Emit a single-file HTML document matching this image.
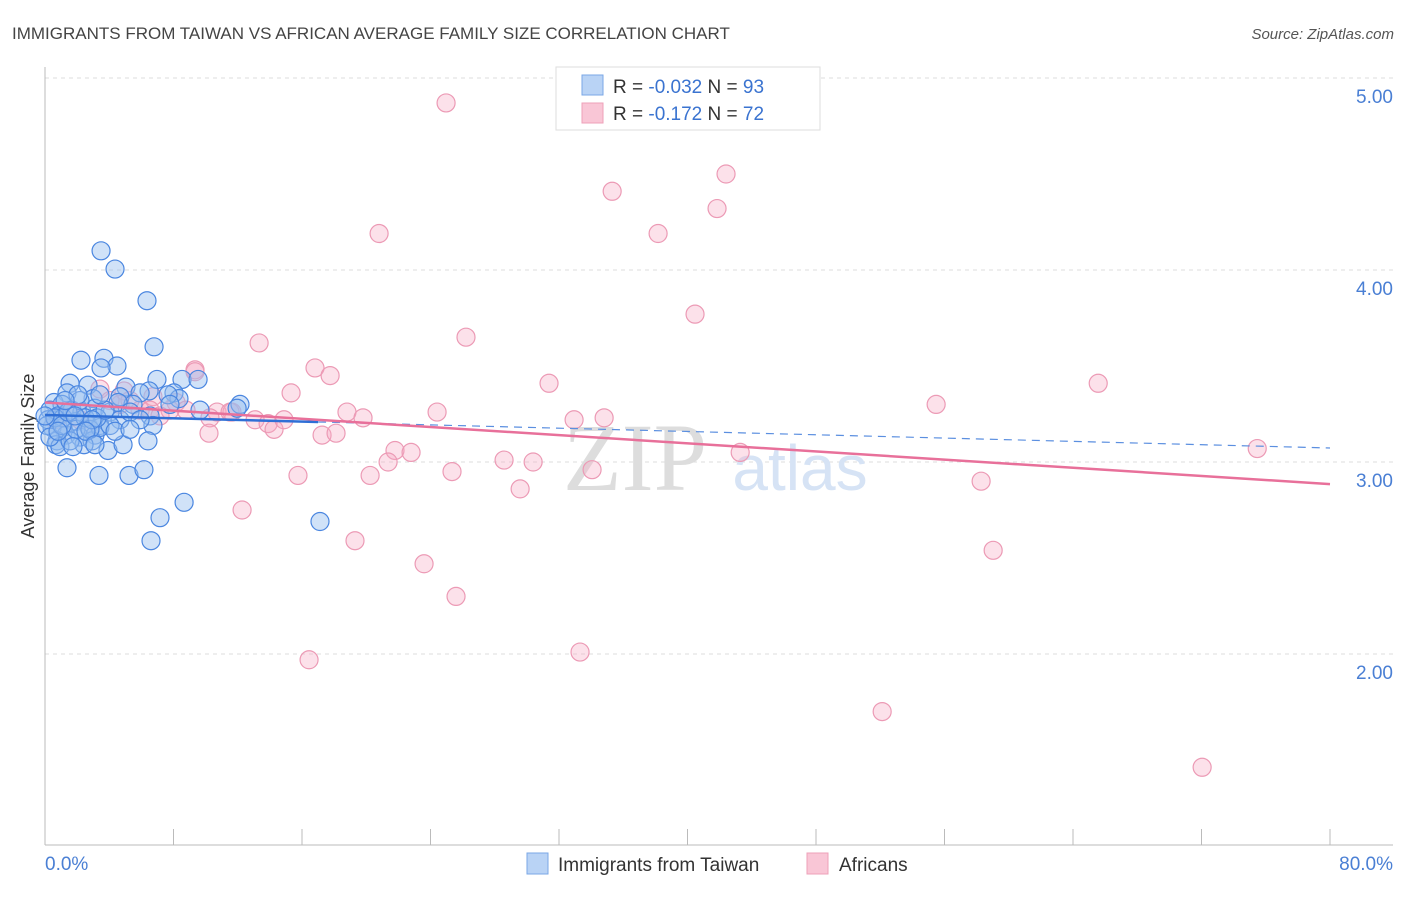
<!DOCTYPE html>
<html><head><meta charset="utf-8"><style>
body{margin:0;background:#fff;font-family:"Liberation Sans",sans-serif;}
</style></head><body>
<svg width="1406" height="892" viewBox="0 0 1406 892" xmlns="http://www.w3.org/2000/svg">
<text x="12" y="39" font-size="17" fill="#444">IMMIGRANTS FROM TAIWAN VS AFRICAN AVERAGE FAMILY SIZE CORRELATION CHART</text>
<text x="1394" y="39" font-size="15" fill="#555" font-style="italic" text-anchor="end">Source: ZipAtlas.com</text>
<g id="grid"></g>
<text x="635" y="490" font-size="96" fill="#ddd" font-family="Liberation Serif,serif" text-anchor="middle">ZIP</text>
<text x="800" y="490" font-size="64" fill="#d6e3f5" text-anchor="middle">atlas</text>
<line x1="45" y1="67" x2="45" y2="845" stroke="#bbb"/>
<line x1="45" y1="845" x2="1393" y2="845" stroke="#bbb"/>
<g id="ticks"></g>
<g id="ylabels"></g>
<text transform="translate(34,456) rotate(-90)" font-size="18" fill="#333" text-anchor="middle">Average Family Size</text>
<text x="45" y="870" font-size="19" fill="#4a7fd4">0.0%</text>
<text x="1393" y="870" font-size="19" fill="#4a7fd4" text-anchor="end">80.0%</text>
<g id="pts"></g>
<g id="trends"></g>
<g>
<rect x="556" y="67" width="264" height="63" fill="#fff" stroke="#ddd"/>
<rect x="582" y="75" width="21" height="20" fill="#b9d3f5" stroke="#7aa7e6"/>
<rect x="582" y="103" width="21" height="20" fill="#f9c6d6" stroke="#eea0b8"/>
<text x="613" y="93" font-size="19" fill="#333">R = <tspan fill="#3a73d0">-0.032</tspan>   N = <tspan fill="#3a73d0">93</tspan></text>
<text x="613" y="120" font-size="19" fill="#333">R =  <tspan fill="#3a73d0"> -0.172</tspan>   N = <tspan fill="#3a73d0">72</tspan></text>
</g>
<g>
<rect x="527" y="853" width="21" height="21" fill="#b9d3f5" stroke="#7aa7e6"/>
<text x="558" y="871" font-size="19" fill="#333">Immigrants from Taiwan</text>
<rect x="807" y="853" width="21" height="21" fill="#f9c6d6" stroke="#eea0b8"/>
<text x="839" y="871" font-size="19" fill="#333">Africans</text>
</g>
</svg>
<script>
const yTicks=[2,3,4,5];
const yTickLabels=["2.00","3.00","4.00","5.00"];
const xTickCount=10;
const blueX=[3.49,4.36,6.35,6.79,2.24,3.67,4.48,3.49,2.68,1.56,5.04,6.97,8.53,9.53,8.03,6.48,5.92,8.34,1.37,0.56,1.06,2.99,4.67,5.48,12.14,11.96,0.31,0.81,1.68,2.30,3.11,4.05,6.54,6.72,4.67,1.87,2.68,3.42,1.12,0.44,0.19,1.31,2.18,3.11,0.75,2.93,3.42,0.68,0.93,2.43,3.92,4.86,6.41,1.37,3.36,5.23,6.16,7.16,8.66,6.60,17.12,0.12,0.31,1.56,1.93,2.49,1.12,4.05,4.55,5.29,9.65,7.66,0.62,2.18,2.80,1.74,3.24,3.74,0.00,1.06,2.05,5.92,7.78,2.93,1.43,0.81,2.55,4.36,5.29,1.87,3.42,1.25,3.11];
const blueY=[4.10,4.005,3.84,3.60,3.53,3.54,3.50,3.49,3.40,3.41,3.39,3.43,3.43,3.43,3.36,3.37,3.36,3.33,3.36,3.31,3.30,3.33,3.34,3.30,3.30,3.28,3.27,3.24,3.27,3.26,3.28,3.26,3.24,3.19,3.22,3.21,3.19,3.19,3.18,3.18,3.22,3.14,3.13,3.14,3.11,3.11,3.18,3.09,3.08,3.09,3.06,3.09,3.11,2.97,2.93,2.93,2.96,2.71,2.79,2.59,2.69,3.19,3.13,3.11,3.17,3.23,3.23,3.19,3.31,3.26,3.27,3.35,3.23,3.32,3.17,3.08,3.23,3.27,3.24,3.19,3.35,3.22,3.30,3.22,3.26,3.16,3.16,3.16,3.17,3.24,3.35,3.32,3.09];
const pinkX=[24.97,42.40,35.31,41.84,20.80,38.17,40.47,13.33,26.21,9.34,16.81,17.75,31.38,65.57,55.48,15.32,4.92,6.72,8.16,24.41,18.80,19.80,32.94,34.81,75.47,43.28,13.08,13.89,14.26,14.88,10.71,11.64,8.78,10.27,4.67,3.42,5.92,7.78,1.56,2.18,0.93,2.80,17.25,18.12,21.79,22.79,21.36,28.58,30.39,25.34,34.06,15.75,20.24,29.58,58.28,12.27,19.30,59.03,23.60,25.59,33.31,16.44,52.12,72.04,10.21,11.52,4.05,6.54,5.29,7.16,0.62,9.34];
const pinkY=[4.87,4.50,4.41,4.32,4.19,4.19,3.77,3.62,3.65,3.48,3.49,3.45,3.41,3.41,3.30,3.36,3.37,3.34,3.31,3.26,3.26,3.23,3.22,3.23,3.07,3.05,3.22,3.20,3.17,3.22,3.26,3.26,3.27,3.23,3.30,3.38,3.27,3.27,3.27,3.22,3.24,3.17,3.14,3.15,3.06,3.05,3.00,3.01,3.00,2.95,2.96,2.93,2.93,2.86,2.90,2.75,2.59,2.54,2.47,2.30,2.01,1.97,1.70,1.41,3.15,3.26,3.32,3.27,3.32,3.24,3.22,3.47];
const blueTrend=[3.245,3.073];
const pinkTrend=[3.31,2.885];
const NS="http://www.w3.org/2000/svg";
function xs(p){return 45+p*(1285/80);}
function ys(v){return 846-(v-1)*192;}
function mk(tag,attrs,parent){const e=document.createElementNS(NS,tag);for(const k in attrs)e.setAttribute(k,attrs[k]);parent.appendChild(e);return e;}
const grid=document.getElementById('grid'),yl=document.getElementById('ylabels'),tk=document.getElementById('ticks');
yTicks.forEach((v,i)=>{
 const l=mk('line',{x1:45,x2:1393,y1:ys(v),y2:ys(v),stroke:'#ddd','stroke-dasharray':'4 4'},grid);
 
 
 const t=mk('text',{x:1393,y:ys(v)+25,'font-size':19,fill:'#4a7fd4','text-anchor':'end'},yl);
 t.textContent=yTickLabels[i];
 
 
});
for(let i=1;i<=xTickCount;i++){
 const x=xs(i*8);
 const l=mk('line',{x1:x,x2:x,y1:829,y2:845,stroke:'#bbb'},tk);
 
 
}
const pts=document.getElementById('pts');
pinkX.forEach((p,i)=>{
 const c=mk('circle',{cx:xs(p),cy:ys(pinkY[i]),r:9,fill:'rgba(245,170,195,0.35)',stroke:'#ec9ab5','stroke-width':1.2},pts);
 
 
});
blueX.forEach((p,i)=>{
 const c=mk('circle',{cx:xs(p),cy:ys(blueY[i]),r:9,fill:'rgba(150,190,240,0.45)',stroke:'#4a86e0','stroke-width':1.2},pts);
 
 
});
const tr=document.getElementById('trends');
function bAt(p){return blueTrend[0]+(blueTrend[1]-blueTrend[0])*p/80;}
let l1=mk('line',{x1:xs(0),y1:ys(bAt(0)),x2:xs(17),y2:ys(bAt(17)),stroke:'#2f6fd6','stroke-width':2.5},tr);


let l2=mk('line',{x1:xs(17),y1:ys(bAt(17)),x2:xs(80),y2:ys(bAt(80)),stroke:'#5b8fe0','stroke-width':1.2,'stroke-dasharray':'8 6'},tr);


let l3=mk('line',{x1:xs(0),y1:ys(pinkTrend[0]),x2:xs(80),y2:ys(pinkTrend[1]),stroke:'#e8709a','stroke-width':2.5},tr);


</script>
</body></html>
